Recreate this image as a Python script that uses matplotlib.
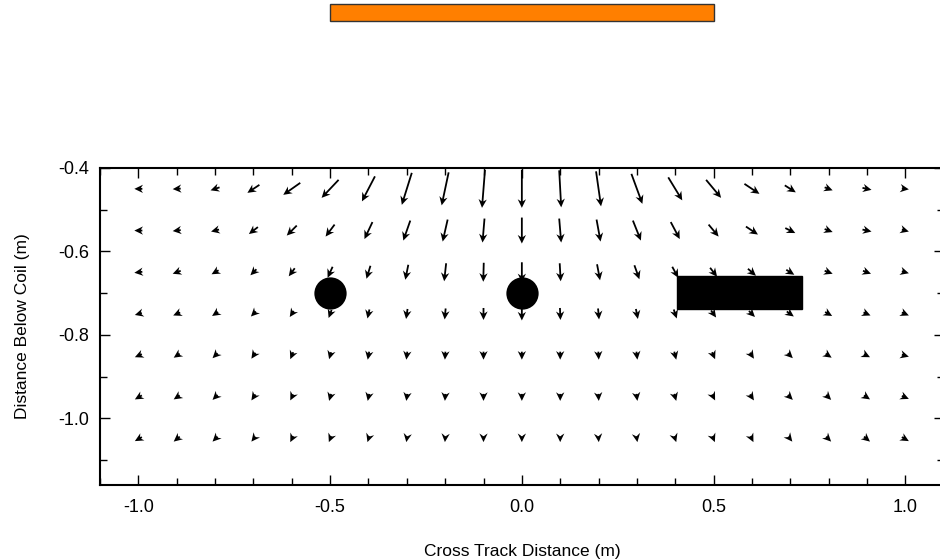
import matplotlib
matplotlib.use("Agg")
import matplotlib.pyplot as plt
import numpy as np
from matplotlib.patches import Rectangle

plt.rcParams['font.family'] = ['Liberation Sans', 'DejaVu Sans']

# grid of field sample points
x_positions = [-1.0, -0.9, -0.8, -0.7, -0.6, -0.5, -0.4, -0.3, -0.2, -0.1, 0.0,
               0.1, 0.2, 0.3, 0.4, 0.5, 0.6, 0.7, 0.8, 0.9, 1.0]
y_positions = [-0.45, -0.55, -0.65, -0.75, -0.85, -0.95, -1.05]

# horizontal field component (relative units), one row per depth
field_u = [
    [-8, -8, -9, -12, -17, -17, -13, -10, -7, -3, 0, 2, 5, 11, 14, 15, 15, 11, 8, 9, 7],
    [-8, -8, -8, -9, -10, -9, -8, -7, -5, -2, 0, 2, 4, 8, 9, 10, 12, 10, 8, 9, 7],
    [-8, -8, -7, -6, -6, -5, -4, -3, -2, -0.5, 0, 1, 3, 5, 6, 7, 8, 8, 8, 8, 7],
    [-7, -7, -6, -5, -4, -3, -2, -1.5, -1, 0, 0, 0.5, 1, 2, 3, 5, 6, 7, 7, 7, 7],
    [-7, -6, -5, -4, -3, -2, -1.5, -1, -0.5, 0, 0, 0, 0.5, 1, 2, 3, 4, 5, 6, 6, 7],
    [-7, -6, -5, -4, -3, -2, -1.5, -1, -0.5, 0, 0, 0, 0.5, 1, 2, 3, 4, 5, 5, 6, 7],
    [-7, -6, -5, -4, -3, -2.5, -2, -1, -0.5, 0, 0, 0, 0.5, 1, 2, 2.5, 3, 4, 5, 6, 7],
]
# vertical field component (relative units, negative = downward)
field_v = [
    [0, -0.5, -3, -8, -12, -18, -25, -32, -33, -38, -38, -37, -35, -30, -23, -18, -10, -7, -3, -2, -1],
    [0, -1, -2, -7, -10, -12, -17, -20, -22, -24, -26, -24, -22, -20, -17, -12, -8, -5, -3, -2, -2],
    [-1, -3, -4, -6, -8, -11, -13, -15, -18, -19, -20, -18, -16, -14, -11, -9, -7, -5, -3, -3, -2],
    [-2, -3, -4, -5, -6, -8, -9, -10, -11, -12, -13, -12, -11, -10, -9, -7, -6, -5, -4, -3, -3],
    [-3, -4, -5, -6, -7, -7, -8, -8, -8, -8, -8, -8, -8, -8, -8, -7, -6, -5, -4, -3, -2],
    [-4, -4, -5, -6, -6, -7, -7, -7, -7, -7, -7, -7, -7, -7, -7, -6, -6, -5, -5, -4, -3],
    [-4, -5, -5, -5, -6, -6, -6, -6, -6, -6, -6, -6, -6, -6, -6, -6, -6, -5, -5, -5, -4],
]

# buried targets
sphere_x = [-0.5, 0.0]
sphere_y = [-0.7, -0.7]
bar_x0, bar_x1 = 0.405, 0.73
bar_y0, bar_y1 = -0.737, -0.66
# transmitter coil
coil_x0, coil_x1 = -0.5, 0.5
coil_y0, coil_y1 = -0.047, -0.008

x_ticks = [-1.0, -0.5, 0.0, 0.5, 1.0]
y_ticks = [-0.4, -0.6, -0.8, -1.0]

fig = plt.figure(figsize=(9.4, 5.6), dpi=100)
ax = fig.add_axes([100 / 940, 1 - 485 / 560, 843.7 / 940, (485 - 168) / 560])

X, Y = np.meshgrid(x_positions, y_positions)
U = np.array(field_u, dtype=float)
V = np.array(field_v, dtype=float)
ax.quiver(X, Y, U, V, pivot='middle', angles='uv', scale_units='dots', scale=1.0,
          units='dots', width=1.8, headwidth=4.6, headlength=4.8,
          headaxislength=3.6, minshaft=0.3, color='black', zorder=2)

ax.scatter(sphere_x, sphere_y, s=540, color='black', zorder=3, linewidths=0)
ax.add_patch(Rectangle((bar_x0, bar_y0), bar_x1 - bar_x0, bar_y1 - bar_y0,
                       facecolor='black', edgecolor='black', zorder=3))
ax.add_patch(Rectangle((coil_x0, coil_y0), coil_x1 - coil_x0, coil_y1 - coil_y0,
                       facecolor='#ff7f00', edgecolor='#333333', linewidth=1.0,
                       clip_on=False, zorder=3))

ax.set_xlim(-1.1, 1.1)
ax.set_ylim(-1.16, -0.4)
ax.set_xticks(x_ticks)
ax.set_xticklabels(['%.1f' % t for t in x_ticks])
ax.set_yticks(y_ticks)
ax.set_yticklabels(['%.1f' % t for t in y_ticks])
ax.set_xticks(np.arange(-1.1, 1.11, 0.1), minor=True)
ax.set_yticks([-0.5, -0.7, -0.9, -1.1], minor=True)

for s in ax.spines.values():
    s.set_linewidth(1.5)
ax.tick_params(which='both', direction='in', top=True, right=True, width=1.0,
               labelsize=13, colors='black')
ax.tick_params(which='major', length=7)
ax.tick_params(which='minor', length=5)
ax.tick_params(axis='x', pad=10)
ax.tick_params(axis='y', pad=8)

ax.set_xlabel('Cross Track Distance (m)', fontsize=12.5, labelpad=20)
ax.set_ylabel('Distance Below Coil (m)', fontsize=12.5, labelpad=20)

fig.savefig('out.png', dpi=100)
